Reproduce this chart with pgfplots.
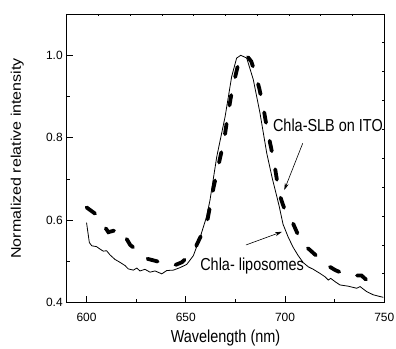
\documentclass[border=0pt]{standalone}
\usepackage{pgfplots}
\pgfplotsset{compat=1.18}
\usetikzlibrary{arrows.meta}
\usepackage{fontspec}
\setmainfont{Liberation Sans}
\usepackage{graphicx}
\newcommand\st[1]{\scalebox{1}[1.2]{#1}}
\begin{document}
\begin{tikzpicture}
\useasboundingbox (-66.7bp,-46.3bp) rectangle (329.3bp,302.7bp);
\begin{axis}[at={(0,0)},anchor=south west,scale only axis,
 width=317.6bp,height=288.7bp,
 xmin=590,xmax=750,ymin=0.4,ymax=1.1,
 xtick={600,650,700,750}, ytick={0.4,0.6,0.8,1.0},
 minor x tick num=1, minor y tick num=1,
 xtick pos=left, ytick pos=left, tick align=inside,
 major tick length=6.5bp, minor tick length=3.5bp,
 every tick/.style={black,line width=0.8bp},
 axis line style={line width=0.8bp},
 tick label style={font=\fontsize{12}{12}\selectfont},
 /pgf/number format/assume math mode=true,
 yticklabel style={/pgf/number format/fixed,/pgf/number format/fixed zerofill,/pgf/number format/precision=1,xshift=-0.5bp},
 xticklabel style={yshift=-7bp},
 every axis x label/.style={at={(axis description cs:0.5,-0.1368)},anchor=base,font=\fontsize{14.5}{14.5}\selectfont},
 every axis y label/.style={at={(axis description cs:-0.1439,0.5)},rotate=90,anchor=base,font=\fontsize{14}{14}\selectfont},
 xlabel={\st{Wavelength (nm)}},
 ylabel={\scalebox{1.15}[1]{Normalized relative intensity}},
 clip=false,
]
\addplot[black,line width=0.8bp] coordinates {
(600,0.594)(601.4,0.546)(602.6,0.538)(605,0.536)(606.8,0.530)(608.4,0.525)
(610.1,0.526)(611.8,0.516)(614.3,0.505)(616.8,0.498)(619.4,0.490)(621.0,0.482)
(623.6,0.479)(625.3,0.484)(626.9,0.477)(629.4,0.481)(632.0,0.474)(634.5,0.477)
(637.9,0.470)(640.4,0.478)(643.7,0.479)(647.1,0.485)(650.5,0.493)(653.8,0.514)
(657,0.555)(660.5,0.609)(662.2,0.649)(665.6,0.754)(669.8,0.851)(673.1,0.948)
(675.6,0.993)(677.7,1.000)(680.7,0.993)(684.0,0.941)(687.4,0.859)(690.8,0.762)
(693.5,0.703)(697,0.635)(699,0.59)(701.5,0.56)(704,0.535)(706.5,0.515)
(709.2,0.497)(711.7,0.487)(714.2,0.481)(717.6,0.471)(720.1,0.463)(721.8,0.455)
(723.0,0.459)(725.2,0.451)(727.7,0.443)(731.9,0.440)(736.1,0.435)(737.8,0.439)
(741.1,0.427)(744.5,0.419)(747.8,0.415)(749.5,0.413)
};
\addplot[black,line width=3.8bp,line cap=round,dash pattern=on 10.5bp off 18.5bp] coordinates {
(600,0.631)(606,0.610)(609,0.585)(611,0.571)(614,0.575)(617,0.579)(619.5,0.560)
(622,0.540)(628,0.517)(631,0.506)(635,0.501)(641,0.493)(644,0.490)(648,0.498)
(654,0.525)(658,0.566)(660.5,0.590)(664,0.680)(667.6,0.758)(669.5,0.800)
(671,0.850)(673.3,0.915)(675.5,0.960)(677,0.990)(679,1.000)(681,0.997)
(683,0.985)(685,0.955)(687,0.920)(689,0.875)(691,0.820)(693,0.775)(695,0.725)
(697,0.665)(699.5,0.630)(701.5,0.615)(703.5,0.598)(706.5,0.565)(709.5,0.540)
(712.5,0.528)(718,0.504)(721.5,0.490)(725.3,0.479)(731,0.467)(735,0.466)
(738.5,0.466)(741.5,0.453)(744.5,0.462)
};
\node[anchor=base,font=\fontsize{14.5}{14.5}\selectfont,inner sep=0pt] at (axis cs:721.6,0.815) {\st{Chla-SLB on ITO}};
\node[anchor=base,font=\fontsize{14.5}{14.5}\selectfont,inner sep=0pt] at (axis cs:683.4,0.477) {\st{Chla- liposomes}};
\draw[line width=0.6bp,-{Stealth[length=7bp,width=4bp]}] (axis cs:708.9,0.7865) -- (axis cs:699.6,0.673);
\draw[line width=0.6bp,-{Stealth[length=7bp,width=4bp]}] (axis cs:680.3,0.540) -- (axis cs:698.5,0.572);
\end{axis}
\begin{axis}[at={(0,0)},anchor=south west,scale only axis,
 width=317.6bp,height=288.7bp,
 xmin=590,xmax=750,ymin=0.4,ymax=1.1,
 xtick={590,606,622,638,654,670,686,702,718,734,750},
 ytick={0.4,0.47,0.54,0.61,0.68,0.75,0.82,0.89,0.96,1.03,1.1},
 xticklabels={}, yticklabels={},
 xtick pos=right, ytick pos=right, tick align=inside,
 major tick length=2.5bp,
 every tick/.style={black,line width=0.8bp},
 axis line style={line width=0.8bp},
]
\end{axis}
\end{tikzpicture}
\end{document}
